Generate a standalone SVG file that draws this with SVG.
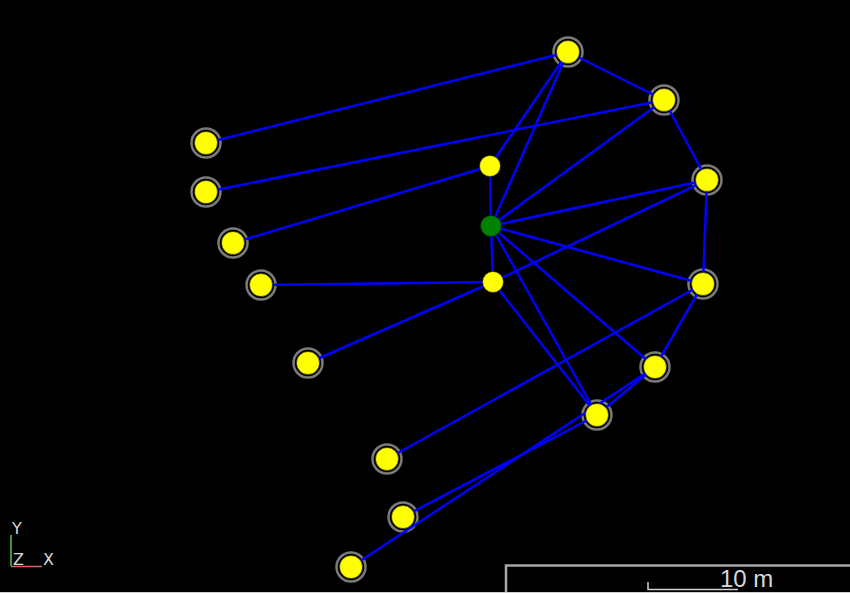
<svg xmlns="http://www.w3.org/2000/svg" width="850" height="593" viewBox="0 0 850 593">
<defs>
<style>
.ring{fill:none;stroke:#7a7a7a;stroke-width:2.5}
.edge{stroke:#0000ff;stroke-width:2.5;fill:none;stroke-linecap:round}
.y{fill:#ffff00;stroke:#1a1a00;stroke-width:0.6}
.g{fill:#008000;stroke:#002000;stroke-width:0.6}
.lbl{font-family:"DejaVu Sans","Liberation Sans",sans-serif;fill:#d8d8d8}
</style>
</defs>
<rect x="0" y="0" width="850" height="593" fill="#000000"/>
<g id="rings">
<circle class="ring" cx="568" cy="52" r="14.5"/>
<circle class="ring" cx="664" cy="100" r="14.5"/>
<circle class="ring" cx="707" cy="180" r="14.5"/>
<circle class="ring" cx="703" cy="284" r="14.5"/>
<circle class="ring" cx="655" cy="367" r="14.5"/>
<circle class="ring" cx="597" cy="415" r="14.5"/>
<circle class="ring" cx="206" cy="143" r="14.5"/>
<circle class="ring" cx="206" cy="192" r="14.5"/>
<circle class="ring" cx="233" cy="243" r="14.5"/>
<circle class="ring" cx="261" cy="285" r="14.5"/>
<circle class="ring" cx="308" cy="363" r="14.5"/>
<circle class="ring" cx="387" cy="459" r="14.5"/>
<circle class="ring" cx="403" cy="517" r="14.5"/>
<circle class="ring" cx="351" cy="567" r="14.5"/>
</g>
<g id="connectors">
<line class="edge" x1="206" y1="143" x2="568" y2="52"/>
<line class="edge" x1="206" y1="192" x2="664" y2="100"/>
<line class="edge" x1="233" y1="243" x2="490" y2="166"/>
<line class="edge" x1="261" y1="285" x2="493" y2="282"/>
<line class="edge" x1="308" y1="363" x2="493" y2="282"/>
<line class="edge" x1="387" y1="459" x2="703" y2="284"/>
<line class="edge" x1="403" y1="517" x2="597" y2="415"/>
<line class="edge" x1="351" y1="567" x2="655" y2="367"/>
<line class="edge" x1="568" y1="52" x2="664" y2="100"/>
<line class="edge" x1="664" y1="100" x2="707" y2="180"/>
<line class="edge" x1="707" y1="180" x2="703" y2="284"/>
<line class="edge" x1="703" y1="284" x2="655" y2="367"/>
<line class="edge" x1="655" y1="367" x2="597" y2="415"/>
<line class="edge" x1="568" y1="52" x2="490" y2="166"/>
<line class="edge" x1="568" y1="52" x2="491" y2="226"/>
<line class="edge" x1="491" y1="226" x2="664" y2="100"/>
<line class="edge" x1="491" y1="226" x2="707" y2="180"/>
<line class="edge" x1="491" y1="226" x2="703" y2="284"/>
<line class="edge" x1="491" y1="226" x2="655" y2="367"/>
<line class="edge" x1="491" y1="226" x2="597" y2="415"/>
<line class="edge" x1="491" y1="226" x2="490" y2="166"/>
<line class="edge" x1="491" y1="226" x2="493" y2="282"/>
<line class="edge" x1="493" y1="282" x2="707" y2="180"/>
<line class="edge" x1="493" y1="282" x2="597" y2="415"/>
</g>
<g id="nA"><circle class="y" cx="568" cy="52" r="11.5"/></g>
<g id="nB"><circle class="y" cx="664" cy="100" r="11.5"/></g>
<g id="nC"><circle class="y" cx="707" cy="180" r="11.5"/></g>
<g id="nD"><circle class="y" cx="703" cy="284" r="11.5"/></g>
<g id="nE"><circle class="y" cx="655" cy="367" r="11.5"/></g>
<g id="nF"><circle class="y" cx="597" cy="415" r="11.5"/></g>
<g id="nG"><circle class="g" cx="491" cy="226" r="10.5"/></g>
<g id="nH"><circle class="y" cx="490" cy="166" r="10.5"/></g>
<g id="nI"><circle class="y" cx="493" cy="282" r="10.5"/></g>
<g id="nL1"><circle class="y" cx="206" cy="143" r="11.5"/></g>
<g id="nL2"><circle class="y" cx="206" cy="192" r="11.5"/></g>
<g id="nL3"><circle class="y" cx="233" cy="243" r="11.5"/></g>
<g id="nL4"><circle class="y" cx="261" cy="285" r="11.5"/></g>
<g id="nL5"><circle class="y" cx="308" cy="363" r="11.5"/></g>
<g id="nL6"><circle class="y" cx="387" cy="459" r="11.5"/></g>
<g id="nL7"><circle class="y" cx="403" cy="517" r="11.5"/></g>
<g id="nL8"><circle class="y" cx="351" cy="567" r="11.5"/></g>
<g id="axes">
<line x1="11" y1="535" x2="11" y2="566" stroke="#5fbf5f" stroke-width="1.5"/>
<line x1="11" y1="566.5" x2="42" y2="566.5" stroke="#e06060" stroke-width="1.5"/>
<text class="lbl" x="12" y="534" font-size="16">Y</text>
<text class="lbl" x="13" y="565" font-size="16">Z</text>
<text class="lbl" x="43" y="565" font-size="16">X</text>
</g>
<g id="scale">
<rect x="506" y="565.5" width="360" height="40" fill="none" stroke="#a8a8a8" stroke-width="2.5"/>
<polyline points="648,582 648,589.5 738,589.5" fill="none" stroke="#d0d0d0" stroke-width="1.5"/>
<text x="720" y="587" font-size="24" font-family="'Liberation Sans',Arial,sans-serif" fill="#d8d8d8">10 m</text>
</g>
<line x1="0" y1="592.5" x2="850" y2="592.5" stroke="#d0d0d0" stroke-width="1"/>
</svg>
